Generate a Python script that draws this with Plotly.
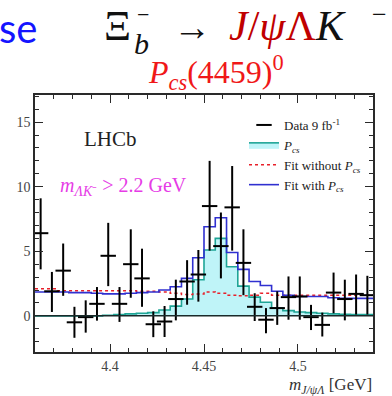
import plotly.graph_objects as go

# ---------------- data ----------------
bin_centers = [4.363, 4.369, 4.375, 4.381, 4.387, 4.393, 4.399, 4.405, 4.411, 4.417,
               4.423, 4.429, 4.435, 4.441, 4.447, 4.453, 4.459, 4.465, 4.471, 4.477,
               4.483, 4.489, 4.495, 4.501, 4.507, 4.513, 4.519, 4.525, 4.531, 4.537]
bin_half_width = 0.003

data_y = [6.4, 1.9, 3.5, -0.5, -0.1, 0.93, 4.65, 0.93, 4.0, 2.9,
          -0.65, -0.44, 1.3, 2.66, 3.2, 8.5, 5.4, 8.4, 4.1, 0.7,
          -0.3, 0.6, 1.45, 1.5, -0.1, -0.7, 1.8, 1.3, 1.7, 1.6]
err_up = [2.7, 1.5, 2.1, 1.2, 1.3, 1.3, 2.55, 1.3, 2.7, 2.3,
          1.0, 1.2, 1.5, 1.65, 1.9, 3.5, 2.6, 3.2, 2.6, 1.05,
          0.9, 1.3, 1.6, 1.55, 0.95, 0.95, 1.55, 1.5, 1.5, 1.5]
err_dn = [2.8, 1.6, 1.95, 1.2, 1.2, 1.3, 2.35, 1.4, 2.6, 2.2,
          1.0, 1.2, 1.65, 1.8, 2.1, 3.45, 2.5, 3.35, 2.5, 1.1,
          1.05, 1.3, 1.75, 1.8, 1.0, 0.9, 1.6, 1.65, 1.6, 1.5]

fit_with = [1.85, 1.85, 1.85, 1.8, 1.8, 1.75, 1.7, 1.7, 1.75, 1.8,
            1.85, 2.0, 2.25, 2.9, 4.5, 6.9, 7.6, 4.9, 3.6, 2.66,
            2.35, 1.9, 1.6, 1.5, 1.5, 1.5, 1.4, 1.35, 1.35, 1.35]
fit_without = [2.1, 2.1, 1.95, 1.95, 1.95, 1.95, 1.95, 1.95, 1.95, 1.9,
               1.9, 1.85, 1.75, 1.65, 1.7, 1.85, 1.75, 1.6, 1.55, 1.6,
               1.75, 1.6, 1.6, 1.6, 1.6, 1.6, 1.6, 1.6, 1.6, 1.6]
pcs = [0.0, 0.0, 0.0, 0.0, 0.0, 0.0, 0.05, 0.1, 0.15, 0.2,
       0.25, 0.45, 0.75, 1.3, 2.8, 5.1, 6.0, 3.8, 2.3, 1.45,
       1.05, 0.6, 0.4, 0.3, 0.25, 0.2, 0.15, 0.12, 0.1, 0.1]

x_range = [4.36, 4.54]
y_range = [-2.8, 17.1]

# step edges built from the bin arrays
edges = [c - bin_half_width for c in bin_centers] + [bin_centers[-1] + bin_half_width]


def stepped(vals):
    return vals + [vals[-1]]


# ---------------- layout geometry ----------------
W, H = 392, 396
L, R, T, B = 35, 373, 95, 352


def px(x):
    return (x - L) / (R - L)


def py(y):
    return (B - y) / (B - T)


serif = "Liberation Serif"

fig = go.Figure()

fig.add_trace(go.Scatter(
    x=edges, y=stepped(pcs), mode="lines", line_shape="hv",
    line=dict(color="#1fa596", width=1.6), fill="tozeroy",
    fillcolor="rgba(170,240,245,0.75)",
    name="<i>P</i><sub><i>cs</i></sub>", legendrank=2))

fig.add_trace(go.Scatter(
    x=edges, y=stepped(fit_without), mode="lines", line_shape="hv",
    line=dict(color="#e8202a", width=1.5, dash="dot"),
    name="Fit without <i>P</i><sub><i>cs</i></sub>", legendrank=3))

fig.add_trace(go.Scatter(
    x=edges, y=stepped(fit_with), mode="lines", line_shape="hv",
    line=dict(color="#3030d0", width=1.6),
    name="Fit with <i>P</i><sub><i>cs</i></sub>", legendrank=4))

fig.add_trace(go.Scatter(
    x=bin_centers, y=data_y, mode="markers",
    marker=dict(symbol="line-ew", size=11, color="black",
                line=dict(color="black", width=2)),
    error_y=dict(type="data", symmetric=False, array=err_up, arrayminus=err_dn,
                 color="black", thickness=2, width=0),
    name="Data 9 fb<sup>-1</sup>", legendrank=1))

fig.add_hline(y=0, line=dict(color="#1a2a2a", width=1.5), layer="above")

axis_common = dict(
    showline=True, linecolor="#2a2a2a", linewidth=1.5, mirror="allticks",
    ticks="inside", tickcolor="#2a2a2a", ticklen=8, tickwidth=1.2,
    showgrid=False, zeroline=False,
    tickfont=dict(family=serif, size=14, color="#444444"),
)

fig.update_xaxes(range=x_range, tickvals=[4.4, 4.45, 4.5], ticktext=["4.4", "4.45", "4.5"],
                 minor=dict(ticks="inside", dtick=0.01, tick0=4.36, ticklen=4,
                            tickcolor="#2a2a2a", showgrid=False),
                 **axis_common)
fig.update_yaxes(range=y_range, tickvals=[0, 5, 10, 15],
                 minor=dict(ticks="inside", dtick=1, tick0=0, ticklen=4,
                            tickcolor="#2a2a2a", showgrid=False),
                 **axis_common)

annotations = [
    dict(text="LHCb", x=px(110), y=py(139), xanchor="center", yanchor="middle",
         font=dict(family=serif, size=21, color="#222222")),
    dict(text="<i>m</i><sub><i>ΛK</i>⁻</sub> > 2.2 GeV", x=px(58), y=py(186),
         xanchor="left", yanchor="middle",
         font=dict(family=serif, size=20, color="#e63ce6")),
    dict(text="<i>m</i><sub><i>J/ψΛ</i></sub> [GeV]", x=px(374), y=py(386),
         xanchor="right", yanchor="middle",
         font=dict(family=serif, size=17, color="#333333")),
    # slide header
    dict(text="se", x=px(-3), y=py(28), xanchor="left", yanchor="middle",
         font=dict(family="Lato", size=40, color="#1414ff")),
    dict(text="Ξ", x=px(117), y=py(26), xanchor="center", yanchor="middle",
         font=dict(family=serif, size=42, color="#111111")),
    dict(text="<i>b</i>", x=px(141), y=py(43), xanchor="center", yanchor="middle",
         font=dict(family=serif, size=30, color="#111111")),
    dict(text="−", x=px(143), y=py(14), xanchor="center", yanchor="middle",
         font=dict(family=serif, size=22, color="#111111")),
    dict(text="→", x=px(192), y=py(27), xanchor="center", yanchor="middle",
         font=dict(family=serif, size=38, color="#111111")),
    dict(text="<span style='color:#c00000'><i>J</i>/<i>ψ</i>Λ</span><i>K</i>",
         x=px(227), y=py(26), xanchor="left", yanchor="middle",
         font=dict(family=serif, size=42, color="#111111")),
    dict(text="−", x=px(379), y=py(14), xanchor="center", yanchor="middle",
         font=dict(family=serif, size=26, color="#111111")),
    dict(text="<i>P</i><sub><i>cs</i></sub>(4459)<sup>0</sup>", x=px(146), y=py(72),
         xanchor="left", yanchor="middle",
         font=dict(family=serif, size=32, color="#f01818")),
]
for a in annotations:
    a.update(xref="paper", yref="paper", showarrow=False)

fig.update_layout(
    width=W, height=H,
    margin=dict(l=L, r=W - R, t=T, b=H - B, pad=0),
    paper_bgcolor="white", plot_bgcolor="white",
    annotations=annotations,
    showlegend=True,
    legend=dict(x=px(244), y=py(110), xanchor="left", yanchor="top",
                bgcolor="rgba(0,0,0,0)", font=dict(family=serif, size=13, color="#222222"),
                itemwidth=30, tracegroupgap=0),
)

fig.write_html("out.html")
